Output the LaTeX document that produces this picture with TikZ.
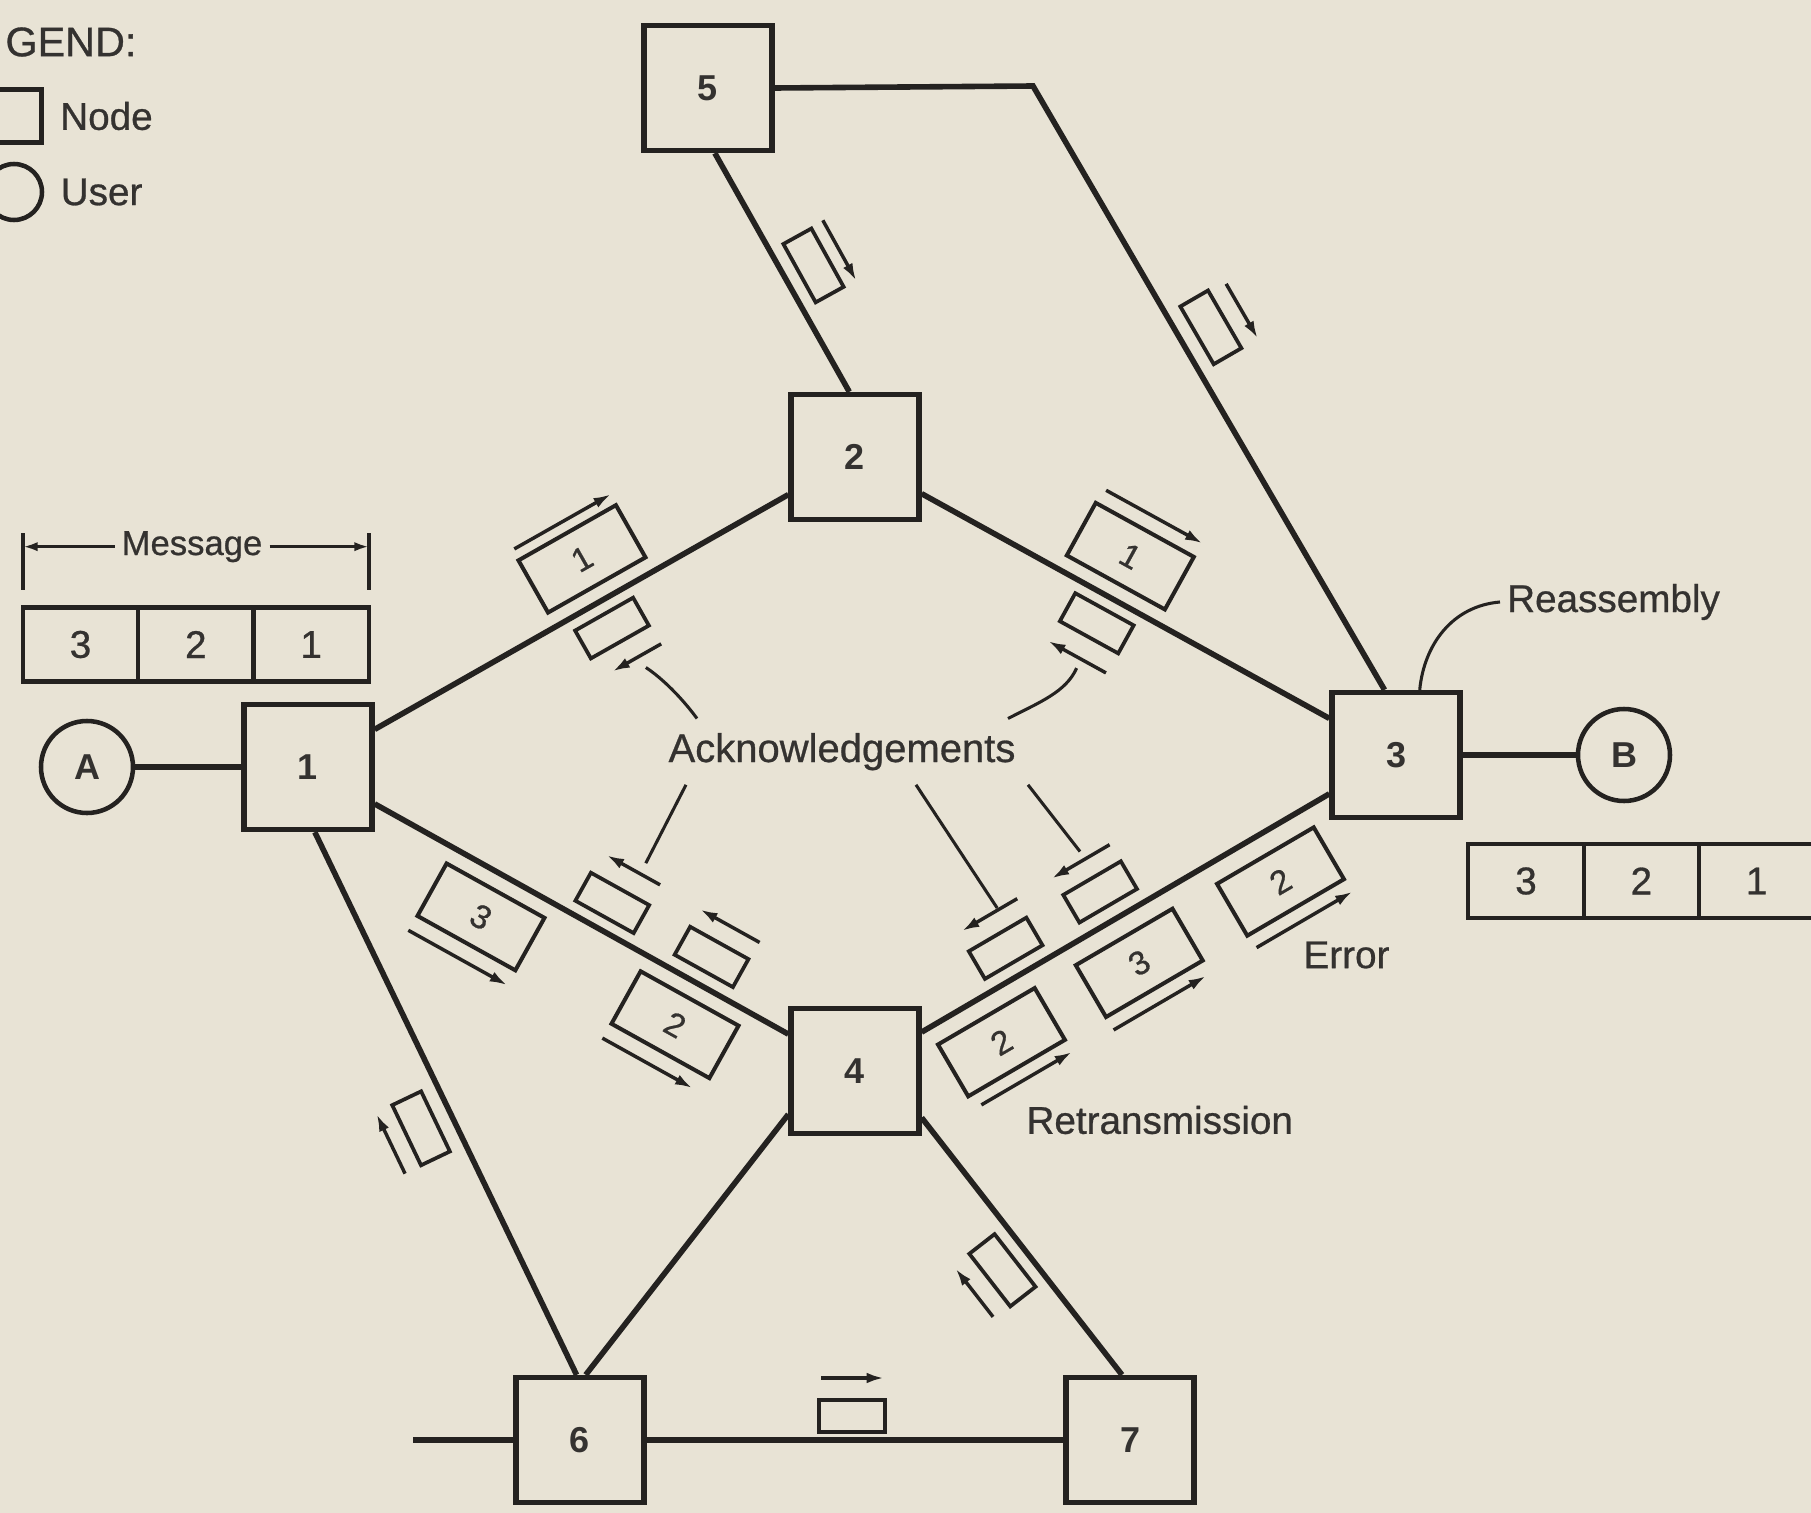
\documentclass[tikz,border=0pt]{standalone}
\usepackage{fontspec}
\setmainfont{Liberation Sans}
\newfontfamily\lblfont{Liberation Sans}[FakeBold=0.7]
\usetikzlibrary{positioning,arrows.meta}

\definecolor{paper}{RGB}{232,227,213}
\definecolor{ink}{RGB}{36,34,32}
\definecolor{inktext}{RGB}{52,50,48}

\tikzset{every picture/.style={line width=0.75pt},
	nodebox/.style={draw=ink,line width=4pt,minimum width=96pt,minimum height=93.75pt,inner sep=0pt,text=inktext,font=\fontsize{27}{30}\selectfont\bfseries},
	userc/.style={draw=ink,circle,line width=3.4pt,minimum size=69pt,inner sep=0pt,text=inktext,font=\fontsize{27}{30}\selectfont\bfseries},
	cell/.style={draw=ink,line width=3.2pt,minimum width=86.5pt,minimum height=55.5pt,inner sep=0pt,outer sep=0pt,text=inktext},
	bigpkt/.style={draw=ink,line width=3pt,minimum width=84pt,minimum height=45pt,inner sep=0pt,text=inktext,font=\lblfont\fontsize{25}{28}\selectfont},
	ackpkt/.style={draw=ink,line width=2.8pt,minimum width=50pt,minimum height=24pt,inner sep=0pt},
	link/.style={draw=ink,line width=4.2pt},
	pkarrow/.style={draw=ink,line width=2.6pt,-{Latex[length=13pt,width=8pt]}},
	leader/.style={draw=ink,line width=2.3pt},
	dimline/.style={draw=ink,line width=2.6pt},
	dimarrow/.style={draw=ink,line width=2.3pt,-{Latex[length=11pt,width=7pt]}},
	lbl/.style={text=inktext,inner sep=0pt}
}

\begin{document}
\begin{tikzpicture}[x=0.75pt,y=0.75pt,yscale=-1,xscale=1,font=\lblfont\fontsize{29}{34}\selectfont]
	%Background
	\path[fill=paper,use as bounding box] (0,0) rectangle (1811,1513);

	% Legend
	\node[lbl,anchor=west,font=\lblfont\fontsize{31}{36}\selectfont] (lgtitle) at (5,42) {GEND:};
	\node[draw=ink,line width=3.4pt,minimum size=39.75pt,inner sep=0pt] (lgnode) at (15,116) {};
	\node[draw=ink,circle,line width=3.4pt,minimum size=42pt,inner sep=0pt] (lguser) at (14,192) {};
	\node[lbl,right=12pt of lgnode] (lgnodetxt) {Node};
	\node[lbl,right=12pt of lguser] (lgusertxt) {User};

	% Nodes and users
	\node[nodebox] (n5) at (708,88) {5};
	\node[nodebox] (n2) at (855,457) {2};
	\node[nodebox] (n1) at (308,767) {1};
	\node[nodebox] (n3) at (1396,755) {3};
	\node[nodebox] (n4) at (855,1071) {4};
	\node[nodebox] (n6) at (580,1440) {6};
	\node[nodebox] (n7) at (1130,1440) {7};
	\node[userc] (uA) at (87,767) {A};
	\node[userc] (uB) at (1624,755) {B};

	% Links
	\draw[link] (uA) -- (n1);
	\draw[link] (n3) -- (uB);
	\draw[link] (n1) -- (n2);
	\draw[link] (n2) -- (n3);
	\draw[link] (n1) -- (n4);
	\draw[link] (n4) -- (n3);
	\draw[link] (n5.-84) -- (n2.95);
	\coordinate (c53) at (1033,86);
	\draw[link] (n5.east) -- (c53) -- (n3.100);
	\draw[link] (n1.-84) -- (n6.93);
	\draw[link] (n4.213) -- (n6.85);
	\draw[link] (n4.-35) -- (n7.97);
	\draw[link] (n6) -- (n7);
	\coordinate (stub6) at (413,1440);
	\draw[link] (stub6) -- (n6);

	% Packets on link 1-2
	\begin{scope}[shift={(n1)},rotate=-29.54]
	\node[bigpkt,rotate=29.54] (p12a) at (341,-46) {1};
	\draw[pkarrow] (287,-88) -- (398,-88);
	\node[ackpkt,rotate=29.54] (k12a) at (333,29) {};
	\draw[pkarrow] (368,67) -- (312,67);
	\coordinate (la1) at (343,80);
	\end{scope}

	% Packets on link 2-3
	\begin{scope}[shift={(n2)},rotate=28.85]
	\node[bigpkt,rotate=-28.85] (p23a) at (289,-46) {1};
	\draw[pkarrow] (236,-92) -- (346,-92);
	\node[ackpkt,rotate=-28.85] (k23a) at (292,29) {};
	\draw[pkarrow] (324,68) -- (258,68);
	\coordinate (la2) at (296,78);
	\end{scope}

	% Packets on link 1-4
	\begin{scope}[shift={(n1)},rotate=29.06]
	\node[bigpkt,rotate=-29.06] (p14a) at (224,47) {3};
	\draw[pkarrow] (167,94) -- (280,94);
	\node[ackpkt,rotate=-29.06] (k14a) at (332,-29) {};
	\draw[pkarrow] (365,-68) -- (304,-68);
	\node[ackpkt,rotate=-29.06] (k14b) at (445,-30) {};
	\draw[pkarrow] (480,-66) -- (412,-66);
	\node[bigpkt,rotate=-29.06] (p14b) at (446,47) {2};
	\draw[pkarrow] (389,94) -- (492,94);
	\coordinate (la3) at (342,-80);
	\end{scope}

	% Packets on link 4-3
	\begin{scope}[shift={(n4)},rotate=-30.29]
	\node[bigpkt,rotate=30.29] (p43a) at (141,49) {2};
	\draw[pkarrow] (92,93) -- (197,93);
	\node[bigpkt,rotate=30.29] (p43b) at (300,50) {3};
	\draw[pkarrow] (244,95) -- (351,95);
	\node[bigpkt,rotate=30.29] (p43c) at (463,51) {2};
	\draw[pkarrow] (409,96) -- (520,96);
	\node[ackpkt,rotate=30.29] (k43a) at (192,-30) {};
	\draw[pkarrow] (227,-67) -- (163,-67);
	\node[ackpkt,rotate=30.29] (k43b) at (302,-31) {};
	\draw[pkarrow] (334,-67) -- (267,-67);
	\coordinate (la4) at (205,-69);
	\coordinate (la5) at (305,-76);
	\end{scope}

	% Packets on the outer links
	\begin{scope}[shift={(n1.-84)},rotate=64.43]
	\node[ackpkt,rotate=-64.43] (k16a) at (313,32) {};
	\draw[pkarrow] (347,66) -- (281,66);
	\end{scope}
	\begin{scope}[shift={(n4.-35)},rotate=52.1]
	\node[ackpkt,rotate=-52.1] (k47a) at (170,30) {};
	\draw[pkarrow] (201,66) -- (140,66);
	\end{scope}
	\begin{scope}[shift={(n5.-84)},rotate=61.05]
	\node[ackpkt,rotate=-61.05] (k52a) at (146,-32) {};
	\draw[pkarrow] (111,-62) -- (180,-62);
	\end{scope}
	\begin{scope}[shift={(c53)},rotate=59.93]
	\node[ackpkt,rotate=-59.93] (k53a) at (298,-33) {};
	\draw[pkarrow] (268,-68) -- (331,-68);
	\end{scope}
	\begin{scope}[shift={(n6)}]
	\node[ackpkt] (k67a) at (272,-24) {};
	\draw[pkarrow] (241,-62) -- (304,-62);
	\end{scope}

	% Acknowledgements label and leaders
	\node[lbl,anchor=base,inner sep=10.5pt,font=\lblfont\fontsize{30}{34}\selectfont] (ack) at (842,762) {Acknowledgements};
	\draw[leader] ([xshift=-108.75pt]ack.north) .. controls (682,698) and (662,678) .. (la1);
	\draw[leader] ([xshift=124.5pt]ack.north) .. controls (1040,702) and (1066,692) .. (la2);
	\draw[leader] ([xshift=-117pt]ack.south) -- (la3);
	\draw[leader] ([xshift=55.5pt]ack.south) -- (la4);
	\draw[leader] ([xshift=139.5pt]ack.south) -- (la5);

	% Other labels
	\node[lbl,anchor=west] (err) at (1303,955) {Error};
	\node[lbl,anchor=west] (retx) at (1026,1120) {Retransmission};
	\node[lbl,anchor=base west,inner sep=5pt] (reas) at (1500,612) {Reassembly};
	\draw[leader] (n3.70) .. controls (1424,645) and (1452,606) .. (reas.west);

	% Message before sending
	\node[cell] (m3) at (80.5,644.5) {3};
	\node[cell,right=0pt of m3] (m2) {2};
	\node[cell,right=0pt of m2] (m1) {1};
	\node[lbl,anchor=base,inner sep=5pt,font=\lblfont\fontsize{26}{30}\selectfont] (msg) at (192,555) {Message};
	\coordinate (mleft) at (23,543);
	\coordinate (mright) at (369,543);
	\draw[dimline] (23,533) -- (23,590);
	\draw[dimline] (369,533) -- (369,590);
	\draw[dimarrow] (msg.west) -- (msg.west -| mleft);
	\draw[dimarrow] (msg.east) -- (msg.east -| mright);

	% Message after reassembly
	\node[cell] (r3) at (1526,881) {3};
	\node[cell,right=0pt of r3] (r2) {2};
	\node[cell,right=0pt of r2] (r1) {1};
\end{tikzpicture}
\end{document}
